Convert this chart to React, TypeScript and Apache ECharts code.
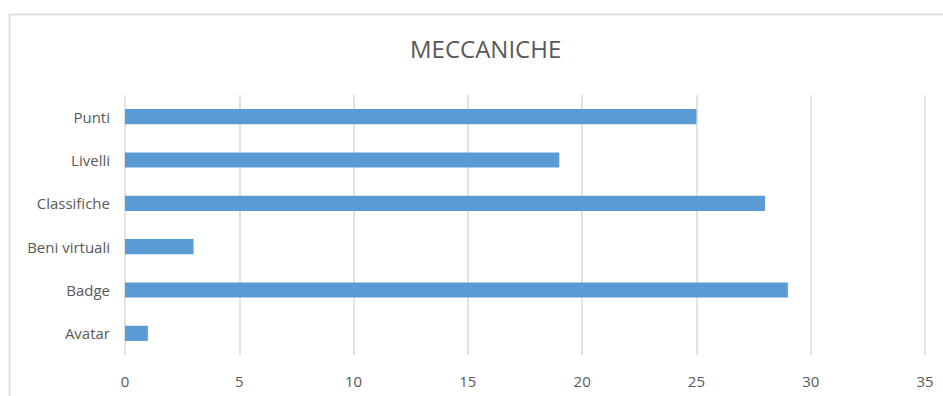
import React, { useEffect, useRef } from "react";
import * as echarts from "echarts";

const categories = ["Avatar", "Badge", "Beni virtuali", "Classifiche", "Livelli", "Punti"];
const values = [1, 29, 3, 28, 19, 25];
const chartTitle = "MECCANICHE";

export default function App() {
  const ref = useRef<HTMLDivElement>(null);
  useEffect(() => {
    if (!ref.current) return;
    const chart = echarts.init(ref.current, undefined, { renderer: "svg" });
    chart.setOption({
      animation: false,
      backgroundColor: "#ffffff",
      textStyle: { fontFamily: "Open Sans" },
      title: {
        text: chartTitle,
        left: 405,
        top: 31,
        textStyle: { fontSize: 24, fontWeight: "normal", color: "#595959", fontFamily: "Open Sans" },
      },
      graphic: [
        {
          type: "rect",
          shape: { x: 9.5, y: 14.5, width: 1000, height: 500 },
          style: { fill: "none", stroke: "#d9d9d9", lineWidth: 1.5 },
          silent: true,
          z: -1,
        },
      ],
      grid: { left: 125, right: 18, top: 95, bottom: 41, containLabel: false },
      xAxis: {
        type: "value",
        min: 0,
        max: 35,
        interval: 5,
        axisLine: { show: false },
        axisTick: { show: false },
        axisLabel: { color: "#595959", fontSize: 15, margin: 18, fontFamily: "Open Sans" },
        splitLine: { show: true, lineStyle: { color: "#d9d9d9", width: 1.5 } },
      },
      yAxis: {
        type: "category",
        data: categories,
        axisLine: { show: false },
        axisTick: { show: false },
        axisLabel: { color: "#595959", fontSize: 15, margin: 15, fontFamily: "Open Sans" },
      },
      series: [
        {
          type: "bar",
          data: values,
          barWidth: "35%",
          itemStyle: { color: "#5b9bd5" },
        },
      ],
    });
    return () => chart.dispose();
  }, []);
  return <div ref={ref} style={{ position: "fixed", left: 0, top: 0, width: 943, height: 396 }} />;
}
